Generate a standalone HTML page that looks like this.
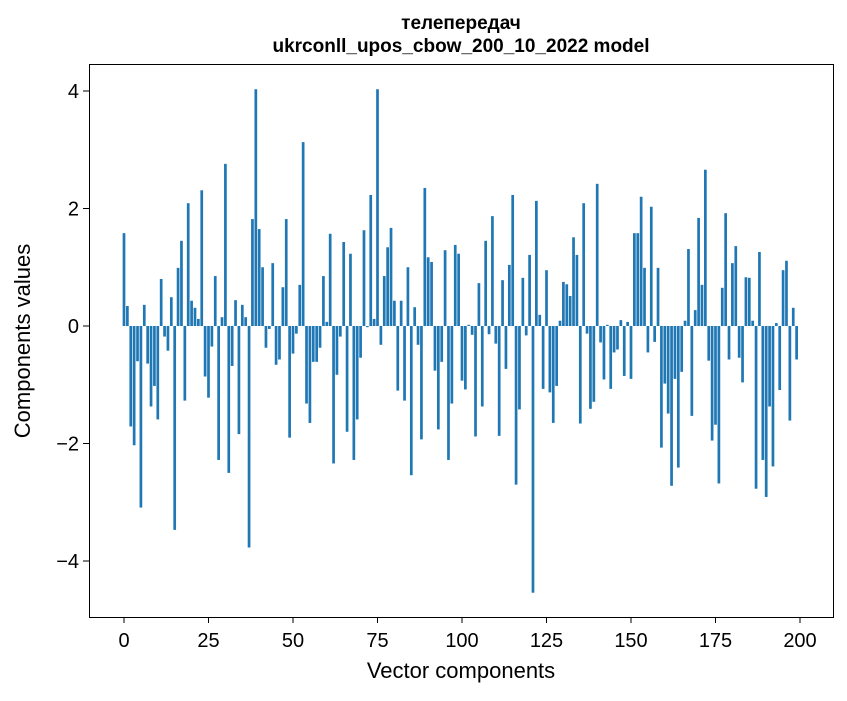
<!DOCTYPE html>
<html><head><meta charset="utf-8"><style>
body{margin:0;background:#fff;}
svg text{font-family:"Liberation Sans","DejaVu Sans",sans-serif;}
</style></head><body>
<svg id="chart" width="847" height="696" xmlns="http://www.w3.org/2000/svg">
<rect width="847" height="696" fill="#fff"/>
<text x="461" y="29" text-anchor="middle" font-size="19" font-weight="bold">телепередач</text>
<text x="461" y="52" text-anchor="middle" font-size="19" font-weight="bold">ukrconll_upos_cbow_200_10_2022 model</text>
<g id="bars"></g>
<g id="axes"></g>
<rect x="89.5" y="64.5" width="744" height="553" fill="none" stroke="#000" stroke-width="1"/>
<text x="461" y="678" text-anchor="middle" font-size="22">Vector components</text>
<text transform="translate(30,341) rotate(-90)" text-anchor="middle" font-size="22">Components values</text>
</svg>
<script>
const values = [1.58,0.34,-1.71,-2.03,-0.60,-3.09,0.36,-0.64,-1.37,-1.02,-1.59,0.80,-0.18,-0.42,0.49,-3.47,0.99,1.45,-1.27,2.09,0.43,0.31,0.12,2.31,-0.86,
-1.22,-0.35,0.85,-2.28,0.15,2.76,-2.50,-0.68,0.44,-1.84,0.36,0.15,-3.77,1.82,4.03,1.65,1.00,-0.37,-0.05,1.07,-0.66,-0.57,0.66,1.82,-1.90,
-0.47,-0.13,0.70,3.13,-1.32,-1.65,-0.61,-0.61,-0.37,0.85,0.07,1.57,-2.34,-0.83,-0.18,1.43,-1.80,1.23,-2.28,-1.59,-0.54,1.63,-0.02,2.23,0.12,
4.03,-0.32,0.85,1.34,1.67,0.43,-1.10,0.43,-1.27,1.00,-2.54,0.32,-0.32,-1.93,2.35,1.17,1.09,-0.76,-1.76,-0.61,1.29,-2.28,-1.32,1.38,1.23,
-0.93,-1.08,0.02,-0.15,-1.88,0.73,-1.37,1.45,-0.14,1.87,-0.30,-1.87,0.78,-0.73,1.04,2.23,-2.70,-1.42,0.82,-0.16,1.21,-4.54,2.13,0.19,-1.07,
0.95,-1.13,-1.65,-1.02,0.09,0.75,0.71,0.51,1.51,1.21,-1.66,2.09,-0.13,-1.41,-1.29,2.42,-0.28,-0.91,0.02,-1.07,-0.45,-0.40,0.10,-0.85,0.07,
-0.90,1.58,1.58,2.20,0.99,-0.45,2.03,-0.27,0.99,-2.07,-0.98,-1.49,-2.72,-0.90,-2.41,-0.78,0.09,1.31,-1.53,0.27,1.84,0.70,2.66,-0.59,-1.95,
-1.68,-2.68,0.65,1.92,-0.57,1.07,1.36,-0.54,-0.96,0.83,0.82,0.09,-2.77,1.26,-2.28,-2.91,-1.37,-2.39,0.05,-1.09,0.95,1.11,-1.61,0.31,-0.57];
const xTicks = [0,25,50,75,100,125,150,175,200];
const yTicks = [-4,-2,0,2,4];
const yTickLabels = ["\u22124","\u22122","0","2","4"];
const NS="http://www.w3.org/2000/svg";
function xScale(v){return 124+v*3.38;}
function yScale(v){return 326-v*58.75;}
const bars=document.getElementById('bars');
values.forEach((v,i)=>{
  const r=document.createElementNS(NS,'rect');
  
  
  const y0=yScale(0),y1=yScale(v);
  r.setAttribute('x',xScale(i-0.4));
  r.setAttribute('width',3.38*0.8);
  r.setAttribute('y',Math.min(y0,y1));
  r.setAttribute('height',Math.abs(y1-y0));
  r.setAttribute('fill','#1f77b4');
  bars.appendChild(r);
});
const axes=document.getElementById('axes');
xTicks.forEach(t=>{
  const l=document.createElementNS(NS,'line');
  
  
  l.setAttribute('x1',xScale(t));l.setAttribute('x2',xScale(t));
  l.setAttribute('y1',617);l.setAttribute('y2',623);l.setAttribute('stroke','#000');
  axes.appendChild(l);
  const tx=document.createElementNS(NS,'text');
  
  
  tx.setAttribute('x',xScale(t));tx.setAttribute('y',647);
  tx.setAttribute('text-anchor','middle');tx.setAttribute('font-size','20');
  tx.textContent=t;
  axes.appendChild(tx);
});
yTicks.forEach((t,i)=>{
  const l=document.createElementNS(NS,'line');
  
  
  l.setAttribute('x1',83);l.setAttribute('x2',89);
  l.setAttribute('y1',yScale(t));l.setAttribute('y2',yScale(t));l.setAttribute('stroke','#000');
  axes.appendChild(l);
  const tx=document.createElementNS(NS,'text');
  
  
  tx.setAttribute('x',79);tx.setAttribute('y',yScale(t)+7);
  tx.setAttribute('text-anchor','end');tx.setAttribute('font-size','20');
  tx.textContent=yTickLabels[i];
  axes.appendChild(tx);
});
</script>
</body></html>
